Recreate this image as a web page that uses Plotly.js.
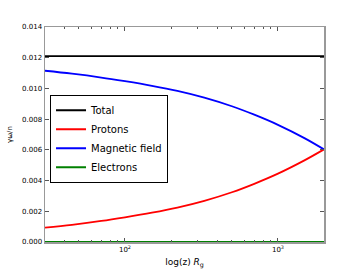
<!DOCTYPE html>
<html>
<head>
<meta charset="utf-8">
<script src="https://cdn.plot.ly/plotly-3.0.1.min.js"></script>
<style>html,body{margin:0;padding:0;background:#fff;}#chart{width:360px;height:270px;}</style>
</head>
<body>
<div id="chart"></div>
<script>
var z = [30, 45, 70, 100, 150, 220, 330, 500, 700, 1000, 1500, 2000];
var protons = [0.00093, 0.00112, 0.00137, 0.00161, 0.00191, 0.00224, 0.00268, 0.00324, 0.00379, 0.00445, 0.00533, 0.00603];
var magnetic = [0.01115, 0.01096, 0.01071, 0.01047, 0.01017, 0.00984, 0.00940, 0.00884, 0.00829, 0.00763, 0.00675, 0.00603];
var total = [0.0121, 0.0121, 0.0121, 0.0121, 0.0121, 0.0121, 0.0121, 0.0121, 0.0121, 0.0121, 0.0121, 0.0121];
var electrons = [0, 0, 0, 0, 0, 0, 0, 0, 0, 0, 0, 0];
var seriesNames = ["Total", "Protons", "Magnetic field", "Electrons"];
var xMajorTicks = [100, 1000];
var xMajorLabels = ["10<sup>2</sup>", "10<sup>3</sup>"];
var xMinorTicks = [40, 50, 60, 70, 80, 90, 200, 300, 400, 500, 600, 700, 800, 900];
var yTicks = [0, 0.002, 0.004, 0.006, 0.008, 0.010, 0.012, 0.014];
var yLabels = ["0.000", "0.002", "0.004", "0.006", "0.008", "0.010", "0.012", "0.014"];

var font = "DejaVu Sans, sans-serif";
function tr(y, name, color) {
  return {x: z, y: y, name: name, type: 'scatter', mode: 'lines',
          line: {color: color, width: 1.8, shape: 'spline', smoothing: 1}};
}
var data = [
  tr(total, seriesNames[0], '#000000'),
  tr(protons, seriesNames[1], '#ff0000'),
  tr(magnetic, seriesNames[2], '#0000ff'),
  tr(electrons, seriesNames[3], '#008000')
];
var axisCommon = {
  showline: true, linecolor: '#999999', linewidth: 1.5, mirror: 'ticks',
  ticks: 'inside', tickcolor: '#555555', tickwidth: 1, ticklen: 4,
  showgrid: false, zeroline: false,
  tickfont: {family: font, size: 7, color: '#000'}
};
var layout = {
  width: 360, height: 270,
  margin: {l: 45, r: 36, t: 27, b: 28},
  paper_bgcolor: '#fff', plot_bgcolor: '#fff',
  showlegend: true,
  font: {family: font, color: '#000'},
  xaxis: Object.assign({}, axisCommon, {
    type: 'log', range: [Math.log10(30), Math.log10(2000)],
    tickmode: 'array', tickvals: xMajorTicks, ticktext: xMajorLabels,
    minor: {tickvals: xMinorTicks, ticks: 'inside', ticklen: 2, tickcolor: '#555555', tickwidth: 1},
    title: {text: 'log(z) <i>R</i><sub>g</sub>', font: {family: font, size: 9, color: '#000'}, standoff: 6}
  }),
  yaxis: Object.assign({}, axisCommon, {
    range: [0, 0.014], tickmode: 'array', tickvals: yTicks, ticktext: yLabels,
    title: {text: 'γω/n', font: {family: font, size: 7, color: '#000'}, standoff: 8}
  }),
  legend: {
    x: 0.018, y: 0.685, xanchor: 'left', yanchor: 'top',
    bgcolor: '#fff', bordercolor: '#000', borderwidth: 1,
    font: {family: font, size: 10, color: '#000'},
    tracegroupgap: 0
  }
};
Plotly.newPlot('chart', data, layout, {staticPlot: true, displayModeBar: false});
</script>
</body>
</html>
